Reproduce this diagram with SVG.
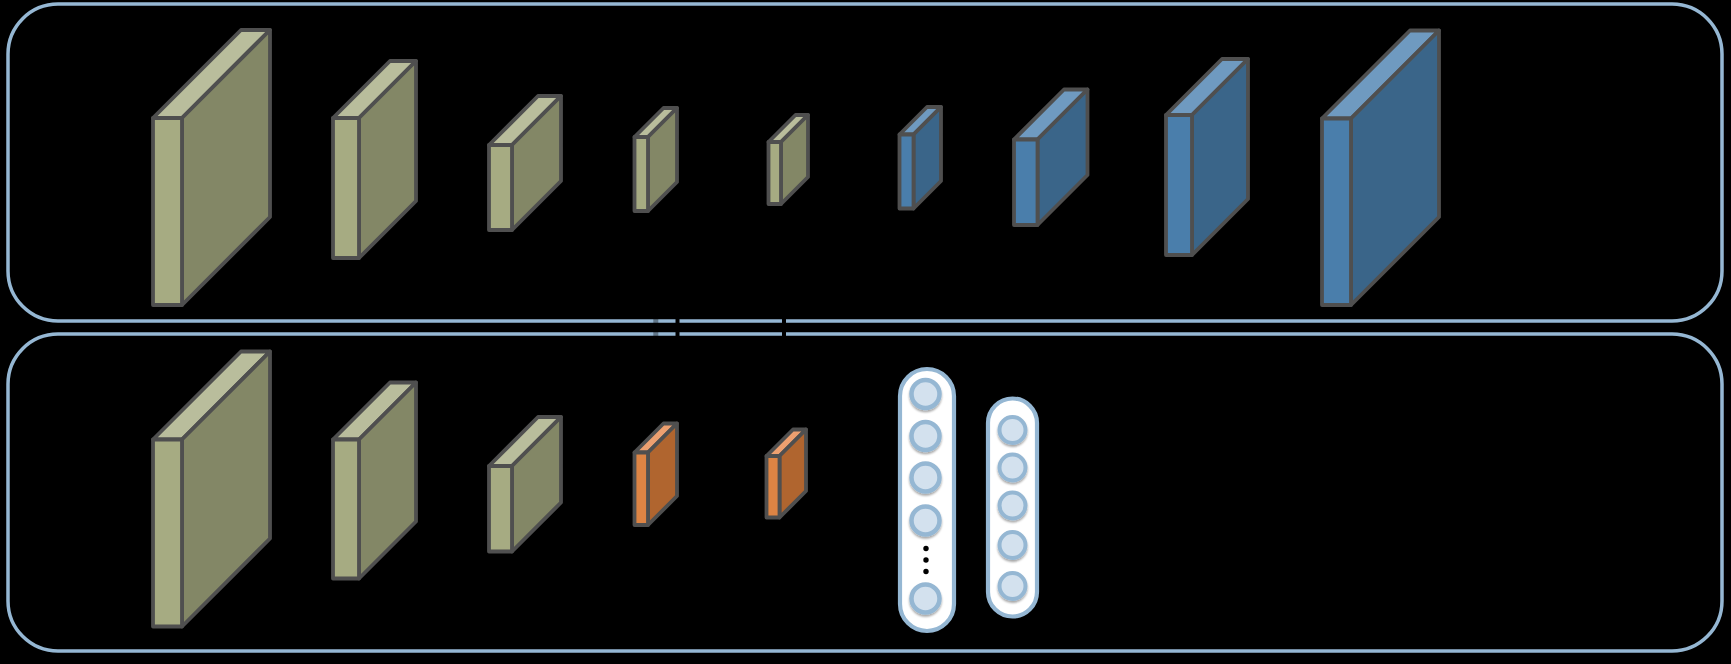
<svg xmlns="http://www.w3.org/2000/svg" width="1731" height="664" viewBox="0 0 1731 664">
<defs>
<style>
.frame{fill:none;stroke:#95b7d3;stroke-width:3.5}
.blk{stroke:#4f4f4f;stroke-width:3.8;stroke-linejoin:round}
.gf{fill:#a6ab82}.gs{fill:#838766}.gt{fill:#b9bd9c}
.bf{fill:#4a7eab}.bs{fill:#3a6589}.bt{fill:#6f9ac0}
.of{fill:#dd8444}.os{fill:#b0652f}.ot{fill:#eda070}
.pill{fill:#ffffff;stroke:#95b7d3;stroke-width:4.2}
.neu{fill:#d3e1ee;stroke:#95b7d3;stroke-width:4.5}
.neu2{fill:#d3e1ee;stroke:#95b7d3;stroke-width:4}
.conn{stroke:#000000;stroke-width:4;fill:none}
</style>
<filter id="sh" x="-30%" y="-30%" width="160%" height="170%">
<feDropShadow dx="0" dy="2" stdDeviation="1.2" flood-color="#000" flood-opacity="0.35"/>
</filter>
</defs>
<rect x="0" y="0" width="1731" height="664" fill="#000000"/>
<g id="frame-top"><rect class="frame" x="8" y="4" width="1714" height="317" rx="50"/></g>
<g id="frame-bottom"><rect class="frame" x="8" y="334" width="1714" height="317" rx="50"/></g>

<g id="t1" class="blk"><polygon class="gt" points="153,118 241,30 270,30 182,118"/><polygon class="gs" points="182,118 270,30 270,217 182,305"/><rect class="gf" x="153" y="118" width="29" height="187"/></g>
<g id="t2" class="blk"><polygon class="gt" points="333,118 390,61 416,61 359,118"/><polygon class="gs" points="359,118 416,61 416,201 359,258"/><rect class="gf" x="333" y="118" width="26" height="140"/></g>
<g id="t3" class="blk"><polygon class="gt" points="489,145 538,96 561,96 512,145"/><polygon class="gs" points="512,145 561,96 561,181 512,230"/><rect class="gf" x="489" y="145" width="23" height="85"/></g>
<g id="t4" class="blk"><polygon class="gt" points="634.5,137 663.5,108 677,108 648,137"/><polygon class="gs" points="648,137 677,108 677,182 648,211"/><rect class="gf" x="634.5" y="137" width="13.5" height="74"/></g>
<g id="t5" class="blk"><polygon class="gt" points="768.5,142 795.5,115 808,115 781,142"/><polygon class="gs" points="781,142 808,115 808,177 781,204"/><rect class="gf" x="768.5" y="142" width="12.5" height="62"/></g>
<g id="t6" class="blk"><polygon class="bt" points="899.5,134.5 927,107 941,107 913.5,134.5"/><polygon class="bs" points="913.5,134.5 941,107 941,181 913.5,208.5"/><rect class="bf" x="899.5" y="134.5" width="14" height="74"/></g>
<g id="t7" class="blk"><polygon class="bt" points="1014,139.5 1064,89.5 1087.5,89.5 1037.5,139.5"/><polygon class="bs" points="1037.5,139.5 1087.5,89.5 1087.5,175 1037.5,225"/><rect class="bf" x="1014" y="139.5" width="23.5" height="85.5"/></g>
<g id="t8" class="blk"><polygon class="bt" points="1166,115 1222,59 1248,59 1192,115"/><polygon class="bs" points="1192,115 1248,59 1248,199 1192,255"/><rect class="bf" x="1166" y="115" width="26" height="140"/></g>
<g id="t9" class="blk"><polygon class="bt" points="1322,118.5 1410,30.5 1439,30.5 1351,118.5"/><polygon class="bs" points="1351,118.5 1439,30.5 1439,217 1351,305"/><rect class="bf" x="1322" y="118.5" width="29" height="186.5"/></g>

<g id="b1" class="blk"><polygon class="gt" points="153,439.5 241,351.5 270,351.5 182,439.5"/><polygon class="gs" points="182,439.5 270,351.5 270,538.5 182,626.5"/><rect class="gf" x="153" y="439.5" width="29" height="187"/></g>
<g id="b2" class="blk"><polygon class="gt" points="333,439.5 390,382.5 416,382.5 359,439.5"/><polygon class="gs" points="359,439.5 416,382.5 416,521.5 359,578.5"/><rect class="gf" x="333" y="439.5" width="26" height="139"/></g>
<g id="b3" class="blk"><polygon class="gt" points="489,466 538,417 561,417 512,466"/><polygon class="gs" points="512,466 561,417 561,502.5 512,551.5"/><rect class="gf" x="489" y="466" width="23" height="85.5"/></g>
<g id="b4" class="blk"><polygon class="ot" points="634.5,452.5 663.5,423.5 677,423.5 648,452.5"/><polygon class="os" points="648,452.5 677,423.5 677,496 648,525"/><rect class="of" x="634.5" y="452.5" width="13.5" height="72.5"/></g>
<g id="b5" class="blk"><polygon class="ot" points="766.5,456 793,429.5 806,429.5 779.5,456"/><polygon class="os" points="779.5,456 806,429.5 806,491 779.5,517.5"/><rect class="of" x="766.5" y="456" width="13" height="61.5"/></g>

<g id="fc1">
<rect class="pill" x="900" y="369" width="54" height="262" rx="27"/>
<g filter="url(#sh)">
<circle class="neu" cx="925.5" cy="394" r="14"/>
<circle class="neu" cx="925.5" cy="436" r="14"/>
<circle class="neu" cx="925.5" cy="477.5" r="14"/>
<circle class="neu" cx="925.5" cy="520.5" r="14"/>
<circle class="neu" cx="925.5" cy="598.5" r="14"/>
</g>
<circle cx="926" cy="548.5" r="2.7" fill="#000"/>
<circle cx="926" cy="560" r="2.7" fill="#000"/>
<circle cx="926" cy="571.5" r="2.7" fill="#000"/>
</g>
<g id="fc2">
<rect class="pill" x="988" y="398.5" width="49" height="218" rx="24.5"/>
<g filter="url(#sh)">
<circle class="neu2" cx="1012.5" cy="430" r="13"/>
<circle class="neu2" cx="1012.5" cy="467.5" r="13"/>
<circle class="neu2" cx="1012.5" cy="505.5" r="13"/>
<circle class="neu2" cx="1012.5" cy="545" r="13"/>
<circle class="neu2" cx="1012.5" cy="586" r="13"/>
</g>
</g>

<g id="connectors">
<line class="conn" x1="677.5" y1="315" x2="677.5" y2="340"/>
<line class="conn" x1="784" y1="315" x2="784" y2="340"/>
<line x1="655.8" y1="318" x2="655.8" y2="337" stroke="#000" stroke-opacity="0.35" stroke-width="5"/>
</g>
</svg>
